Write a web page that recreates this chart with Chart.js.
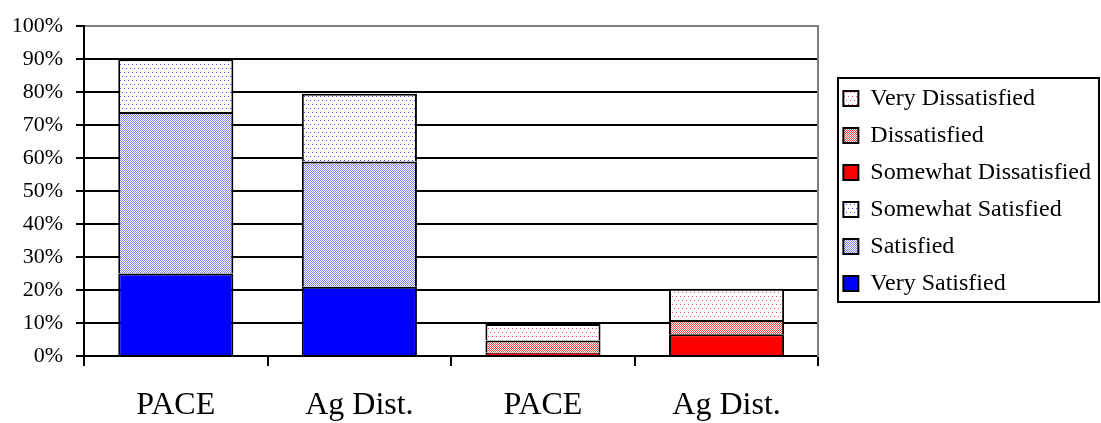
<!DOCTYPE html>
<html><head><meta charset="utf-8">
<script src="https://cdn.jsdelivr.net/npm/chart.js@4.4.1/dist/chart.umd.min.js"></script>
<style>html,body{margin:0;padding:0;background:#fff;} #wrap{width:1101px;height:423px;}</style>
</head><body><div id="wrap"><canvas id="c" width="1101" height="423"></canvas></div>
<script>
const categories = ['PACE', 'Ag Dist.', 'PACE', 'Ag Dist.'];
const seriesNames = ['Very Satisfied', 'Satisfied', 'Somewhat Satisfied', 'Somewhat Dissatisfied', 'Dissatisfied', 'Very Dissatisfied'];
const verySatisfied = [25, 21, null, null];
const satisfied = [49, 38, null, null];
const somewhatSatisfied = [16, 20.5, null, null];
const somewhatDissatisfied = [null, null, 1, 6.6];
const dissatisfied = [null, null, 3.7, 4.3];
const veryDissatisfied = [null, null, 5, 9.5];
const yTickValues = [0, 10, 20, 30, 40, 50, 60, 70, 80, 90, 100];

function makePattern(w, h, bg, color, pts) {
  const c = document.createElement('canvas');
  c.width = w; c.height = h;
  const x = c.getContext('2d');
  x.fillStyle = bg; x.fillRect(0, 0, w, h);
  x.fillStyle = color;
  pts.forEach(p => x.fillRect(p[0], p[1], 1, 1));
  return x.createPattern(c, 'repeat');
}
const ctx0 = document.getElementById('c').getContext('2d');
const blueDense = makePattern(2, 2, '#ffffff', '#7f7fff', [[0,0],[1,1]]);
const blueSparse = makePattern(4, 8, '#ffffff', '#4a4aff', [[0,0],[2,4]]);
const redDense = makePattern(2, 2, '#ffffff', '#ff4444', [[0,0],[1,1]]);
const redSparse = makePattern(4, 8, '#ffffff', '#ff4a4a', [[0,0],[2,4]]);

const seriesData = [verySatisfied, satisfied, somewhatSatisfied, somewhatDissatisfied, dissatisfied, veryDissatisfied];
const fills = ['#0000ff', blueDense, blueSparse, '#ff0000', redDense, redSparse];

Chart.defaults.font.family = "'Liberation Serif', 'Times New Roman', serif";
Chart.defaults.color = '#000';

const legendFrame = {
  id: 'legendFrame',
  afterDraw(chart) {
    const lg = chart.legend;
    const hb = lg && lg.legendHitBoxes;
    if (!hb || !hb.length) return;
    const ctx = chart.ctx;
    const last = hb[hb.length - 1];
    const top = Math.round(hb[0].top - 9);
    const bottom = Math.round(last.top + last.height + 6);
    const left = Math.round(lg.left + 8);
    const right = Math.round(lg.right - 2);
    ctx.save();
    ctx.strokeStyle = '#000';
    ctx.lineWidth = 2;
    ctx.strokeRect(left, top, right - left, bottom - top);
    ctx.restore();
  }
};

new Chart(ctx0, {
  type: 'bar',
  data: {
    labels: categories,
    datasets: seriesNames.map((n, i) => ({
      label: n,
      data: seriesData[i],
      backgroundColor: fills[i],
      borderColor: '#000',
      borderWidth: 2,
      inflateAmount: 0,
      categoryPercentage: 1,
      barPercentage: 0.627
    }))
  },
  options: {
    responsive: false,
    animation: false,
    events: [],
    layout: { padding: { top: 18, left: 0, right: 0, bottom: 0 } },
    plugins: {
      tooltip: { enabled: false },
      legend: {
        position: 'right',
        fullSize: false,
        reverse: true,
        maxWidth: 400,
        labels: {
          font: { size: 24 },
          color: '#000',
          boxWidth: 15,
          boxHeight: 15,
          padding: 13
        }
      }
    },
    scales: {
      x: {
        stacked: true,
        grid: { offset: true, drawOnChartArea: false, color: '#000', lineWidth: 2, tickLength: 10 },
        border: { color: '#000', width: 2 },
        ticks: { font: { size: 32 }, color: '#000', padding: 20, maxRotation: 0 },
        afterFit(s) { s.height = 67; }
      },
      y: {
        stacked: true,
        min: 0, max: 100,
        afterBuildTicks(s) { s.ticks = yTickValues.map(v => ({ value: v })); },
        ticks: { font: { size: 22 }, color: '#000', padding: 13, callback: v => v + '%' },
        grid: {
          color: c => (c.tick && c.tick.value === 100) ? '#808080' : '#000000',
          tickColor: '#000',
          lineWidth: 2,
          tickLength: 8
        },
        border: { color: '#000', width: 2 },
        afterFit(s) { s.width = 84; }
      },
      y2: {
        type: 'linear',
        position: 'right',
        display: true,
        grid: { display: false },
        ticks: { display: false },
        border: { display: true, color: '#808080', width: 2 },
        afterFit(s) { s.width = 12; }
      }
    }
  },
  plugins: [legendFrame]
});
</script>
</body></html>
